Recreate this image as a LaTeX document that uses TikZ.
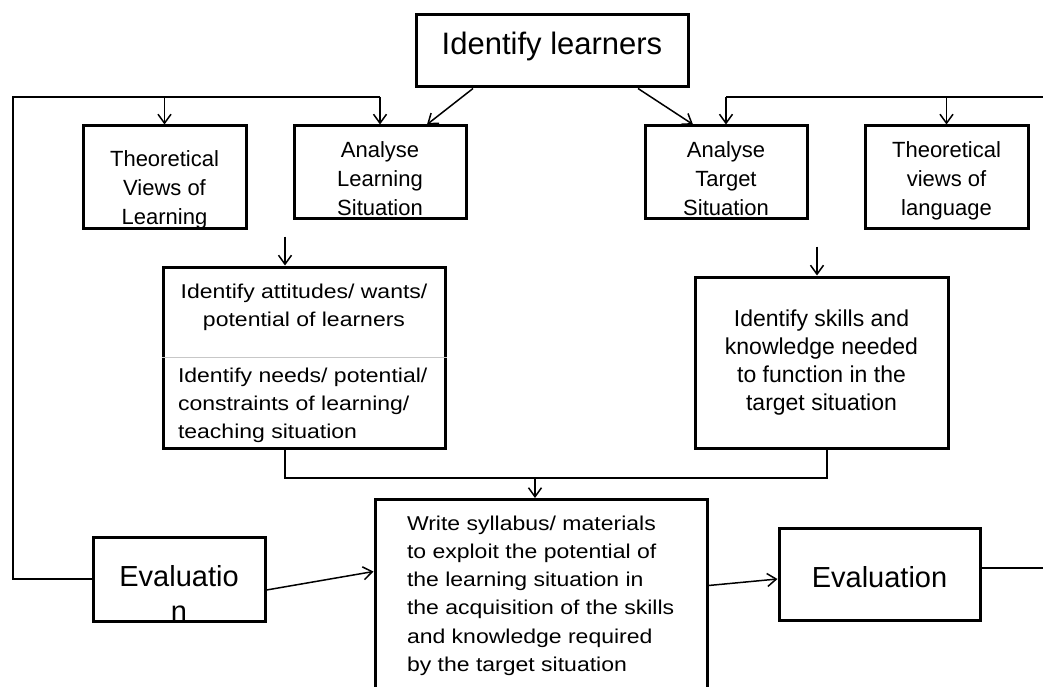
\documentclass[tikz,border=0pt]{standalone}
\usepackage{fontspec}
\setmainfont{Liberation Sans}
\newfontfamily\widefont[FakeStretch=1.15]{Liberation Sans}
\usetikzlibrary{arrows.meta}

\begin{document}
\begin{tikzpicture}[
    x=1pt, y=-1pt,
    box/.style={draw, line width=3pt, inner sep=0pt},
    small/.style={align=center, font=\fontsize{22pt}{29pt}\selectfont},
    wide/.style={font=\widefont\fontsize{20pt}{28pt}\selectfont},
    big/.style={font=\fontsize{29pt}{35pt}\selectfont},
    link/.style={line width=1.5pt},
    arr/.style={link, -{Straight Barb[length=9pt, width=13pt]}},
    divider/.style={line width=0.8pt, black!22}
  ]
    \useasboundingbox (0,0) rectangle (1043,687);

    \node [box, minimum width=272pt, minimum height=72pt, font=\fontsize{31pt}{36pt}\selectfont, text height=22pt, text depth=14pt] (learners) at (552,51) {Identify learners};
    \node [box, small, minimum width=163pt, minimum height=102pt, text height=94pt, text depth=0pt] (tvl) at (164.5,177) {Theoretical\\Views of\\Learning};
    \node [box, small, minimum width=172pt, minimum height=92pt, text height=86pt, text depth=0pt] (als) at (380,172) {Analyse\\Learning\\Situation};
    \node [box, small, minimum width=162pt, minimum height=92pt, text height=86pt, text depth=0pt] (ats) at (726,172) {Analyse\\Target\\Situation};
    \node [box, small, minimum width=163pt, minimum height=102pt, text height=76pt, text depth=0pt] (tvlang) at (946.5,177) {Theoretical\\views of\\language};

    \node [box, wide, minimum width=282pt, minimum height=181pt] (att) at (304,357.5) {\parbox{262pt}{\vspace*{12pt}\centering Identify attitudes/ wants/\\potential of learners\par\vspace{28pt}\raggedright\leftskip=5pt Identify needs/ potential/\\constraints of learning/\\teaching situation}};
    \draw [divider] (att.west) -- (att.east);
    \node [box, align=center, font=\fontsize{23pt}{28pt}\selectfont, minimum width=253pt, minimum height=171pt] (skl) at (821.5,362.5) {Identify skills and\\knowledge needed\\to function in the\\target situation};

    \node [box, wide, minimum width=332pt, anchor=north] (syl) at (541,498) {\parbox[c][230pt][t]{300pt}{\raggedright\leftskip=16pt\vspace*{17pt}Write syllabus/ materials\\to exploit the potential of\\the learning situation in\\the acquisition of the skills\\and knowledge required\\by the target situation}};
    \node [box, big, align=center, minimum width=172pt, minimum height=82pt, text height=84pt, text depth=-3pt] (eval1) at (179,579) {Evaluatio\\n};
    \node [box, big, minimum width=201pt, minimum height=92pt, text height=27pt, text depth=0pt] (eval2) at (879.5,574) {Evaluation};

    % feedback loops
    \coordinate (lt) at (13,97);
    \coordinate (rt) at (1043,97);
    \draw [link] (eval1.west) -| (lt) -- (als.north |- lt);
    \draw [arr] (tvl.north |- lt) -- (tvl.north);
    \draw [arr] (als.north |- lt) -- (als.north);
    \draw [link] (rt) -- (ats.north |- rt);
    \draw [arr] (ats.north |- rt) -- (ats.north);
    \draw [arr] (tvlang.north |- rt) -- (tvlang.north);
    \draw [link] ([yshift=6pt]eval2.east) -- ([yshift=6pt]eval2.east -| rt);

    \draw [arr] ([xshift=-79pt]learners.south) -- ([xshift=47pt]als.north);
    \draw [arr] ([xshift=86pt]learners.south) -- ([xshift=-33pt]ats.north);
    \draw [arr] ([xshift=-19pt, yshift=29pt]att.north) -- ([xshift=-19pt]att.north);
    \draw [arr] ([xshift=-4.5pt, yshift=29pt]skl.north) -- ([xshift=-4.5pt]skl.north);

    \coordinate (j) at (535,478);
    \draw [link] ([xshift=-19pt]att.south) |- (j) -| ([xshift=5.5pt]skl.south);
    \draw [arr] (j) -- (j |- syl.north);
    \draw [arr] ([yshift=-11pt]eval1.east) -- ([yshift=43pt]syl.west);
    \draw [arr] ([yshift=29pt]syl.east) -- ([yshift=-5pt]eval2.west);
\end{tikzpicture}
\end{document}
